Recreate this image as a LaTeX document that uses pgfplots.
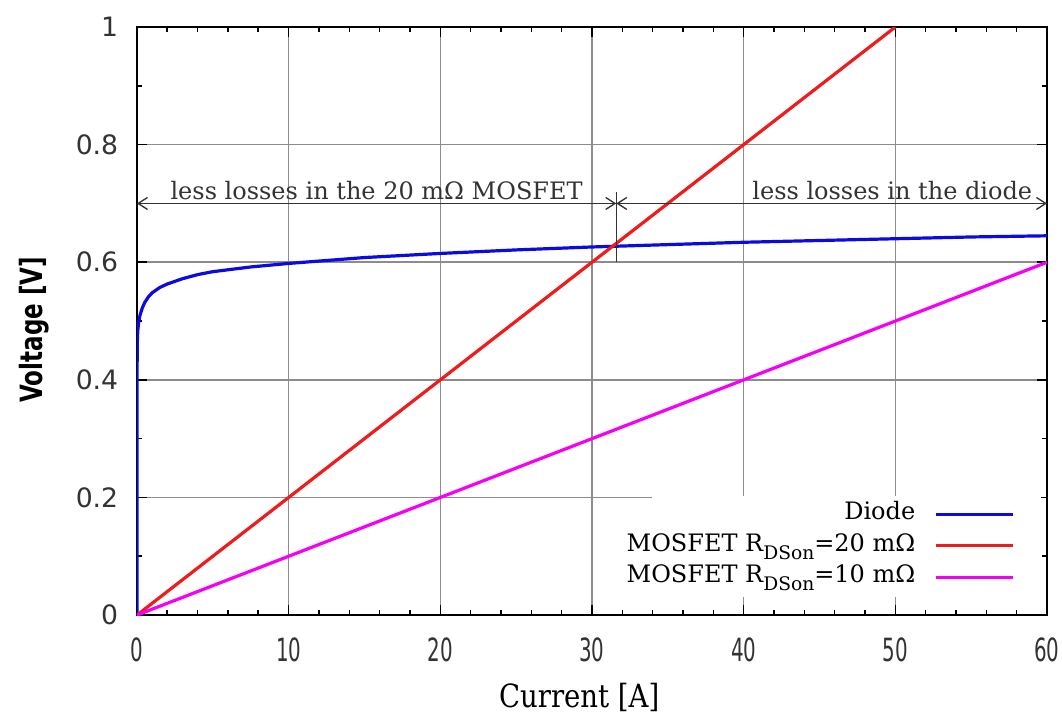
\documentclass[border=0pt]{standalone}
\usepackage{fontspec}
\usepackage{pgfplots}
\pgfplotsset{compat=1.18}
\usetikzlibrary{arrows.meta}
\setmainfont{DejaVu Serif}
\newfontfamily\ytickfont{DejaVu Sans}
\newfontfamily\xtickfont[FakeStretch=0.62]{DejaVu Sans}
\newfontfamily\xlabfont[FakeStretch=0.86]{DejaVu Serif}
\newfontfamily\ylabfont[FakeStretch=0.75]{DejaVu Sans}
\definecolor{diode}{RGB}{10,10,225}
\definecolor{mos20}{RGB}{238,28,28}
\definecolor{mos10}{RGB}{245,0,245}
\newcommand{\sub}[1]{\raisebox{-3pt}{\fontsize{7}{8}\selectfont #1}}
\begin{document}
\begin{tikzpicture}
\begin{axis}[
  scale only axis,
  width=341.25pt, height=220.5pt,
  xmin=0, xmax=60, ymin=0, ymax=1,
  xtick={0,10,...,60}, ytick={0,0.2,...,1.0},
  minor x tick num=4, minor y tick num=1,
  tick align=inside,
  major tick length=3.75pt, minor tick length=1.9pt,
  every tick/.style={black, line width=0.6pt},
  axis line style={black, line width=1pt},
  grid=major,
  major grid style={gray!90, line width=0.6pt},
  /pgf/number format/assume math mode=true,
  yticklabel style={font=\ytickfont\fontsize{10}{12}\selectfont, color=black!80, xshift=-3.5pt},
  xticklabel style={font=\xtickfont\fontsize{12}{14}\selectfont, color=black!80, yshift=-5pt},
  xlabel={Current [A]},
  ylabel={Voltage [V]},
  xlabel style={font=\xlabfont\fontsize{12}{14}\selectfont, at={(axis description cs:0.486,-0.099)}, anchor=north},
  ylabel style={font=\ylabfont\bfseries\fontsize{11.5}{13}\selectfont, at={(axis description cs:-0.113,0.485)}, anchor=center},
  legend style={at={(rel axis cs:1,0)}, anchor=south east, xshift=-12pt, yshift=9pt,
    draw=none, fill=none, inner sep=0pt, row sep=1.8pt,
    font=\fontsize{9}{11}\selectfont,
    nodes={inner sep=0pt, text height=7pt, text depth=3pt}},
  legend cell align=right,
  legend plot pos=right,
  legend image code/.code={\draw[#1] (0pt,0pt) -- (29pt,0pt);},
  legend style={column sep=7pt},
]
% white box behind the key (cuts the grid, as in the original)
\fill[white] (axis cs:33.96,0.03) rectangle (axis cs:59.6,0.203);

\addplot[diode, line width=1.2pt] coordinates {
(0,0) (0.005,0.40) (0.02,0.46) (0.05,0.482) (0.1,0.496) (0.2,0.51)
(0.35,0.522) (0.5,0.531) (0.75,0.541) (1,0.548) (1.5,0.557) (2,0.563)
(3,0.572) (4,0.579) (5,0.584) (7.5,0.592) (10,0.598) (15,0.608)
(20,0.615) (25,0.621) (30,0.626) (35,0.630) (40,0.634) (45,0.637)
(50,0.640) (55,0.643) (60,0.645)
};
\addlegendentry{Diode}

\addplot[mos20, line width=1.2pt] coordinates {(0,0) (50,1)};
\addlegendentry{MOSFET R\sub{DSon}=20 mΩ}

\addplot[mos10, line width=1.2pt] coordinates {(0,0) (60,0.6)};
\addlegendentry{MOSFET R\sub{DSon}=10 mΩ}

% annotations
\draw[black!80, line width=0.5pt, {Straight Barb[length=3.5pt,width=4.5pt]}-{Straight Barb[length=3.5pt,width=4.5pt]}] (axis cs:0,0.7) -- (axis cs:31.6,0.7);
\draw[black!80, line width=0.5pt, {Straight Barb[length=3.5pt,width=4.5pt]}-{Straight Barb[length=3.5pt,width=4.5pt]}] (axis cs:31.6,0.7) -- (axis cs:60,0.7);
\draw[black!80, line width=0.5pt] (axis cs:31.6,0.6) -- (axis cs:31.6,0.72);
\node[anchor=base, inner sep=0pt, font=\fontsize{9}{11}\selectfont, black!80] at (axis cs:15.8,0.707) {less losses in the 20 mΩ MOSFET};
\node[anchor=base, inner sep=0pt, font=\fontsize{9}{11}\selectfont, black!80] at (axis cs:49.8,0.707) {less losses in the diode};

\coordinate (bbl) at (rel axis cs:-0.1505,-0.1667);
\coordinate (btr) at (rel axis cs:1.0165,1.046);
\end{axis}
\pgfresetboundingbox
\useasboundingbox (bbl) rectangle (btr);
\end{tikzpicture}
\end{document}
